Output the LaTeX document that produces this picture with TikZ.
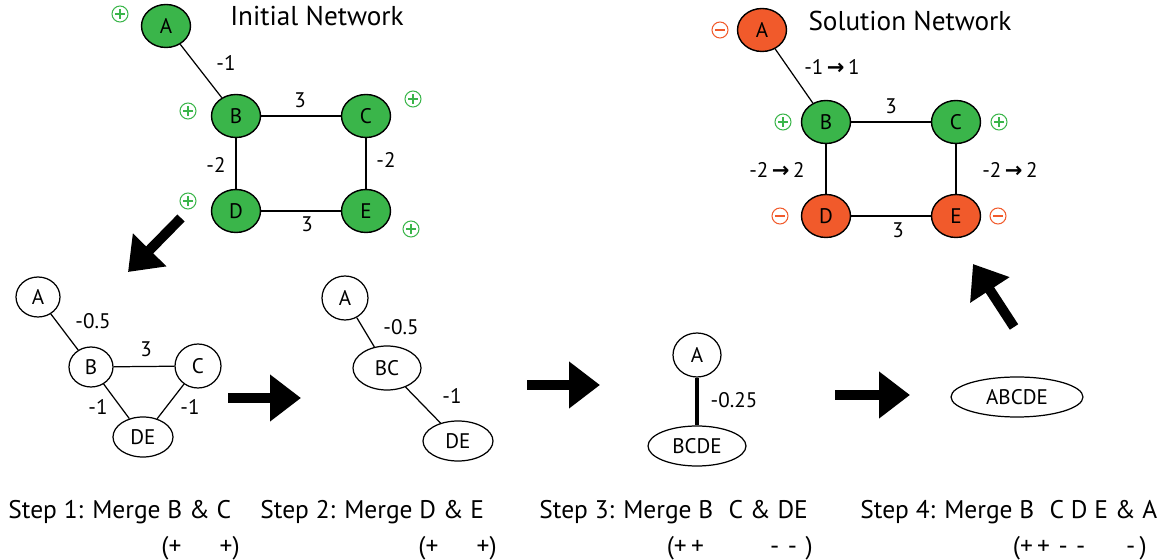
\documentclass[tikz,border=0pt]{standalone}
\usepackage{fontspec}
\setmainfont{PT Sans}
\newfontfamily\arrowfont{DejaVu Sans}
\usetikzlibrary{shapes.geometric,arrows.meta}

\definecolor{netgreen}{HTML}{3AB54A}
\definecolor{netorange}{HTML}{F15A2B}

\tikzset{
  netnode/.style={ellipse, draw, line width=0.8pt, inner sep=0pt,
    minimum width=0.98cm, minimum height=0.86cm, font=\fontsize{12}{14}\selectfont},
  gnode/.style={netnode, fill=netgreen},
  onode/.style={netnode, fill=netorange},
  wnode/.style={ellipse, draw, line width=0.7pt, fill=white, inner sep=0pt,
    font=\fontsize{12}{14}\selectfont},
  wlabel/.style={font=\fontsize{12}{14}\selectfont, inner sep=1pt},
  title/.style={font=\fontsize{15.5}{18}\selectfont},
  steptext/.style={font=\fontsize{14.5}{17}\selectfont, inner sep=0pt},
  link/.style={line width=0.7pt},
  bigarrow/.style={line width=0.2cm, -{Triangle[length=0.62cm,width=0.9cm]}},
  possign/.style={circle, draw=netgreen, line width=0.6pt, minimum size=0.32cm, inner sep=0pt,
    path picture={\draw[netgreen, line width=0.6pt]
      ([xshift=-0.1cm]path picture bounding box.center) -- ([xshift=0.1cm]path picture bounding box.center)
      ([yshift=-0.1cm]path picture bounding box.center) -- ([yshift=0.1cm]path picture bounding box.center);}},
  negsign/.style={circle, draw=netorange, line width=0.6pt, minimum size=0.32cm, inner sep=0pt,
    path picture={\draw[netorange, line width=0.6pt]
      ([xshift=-0.1cm]path picture bounding box.center) -- ([xshift=0.1cm]path picture bounding box.center);}}
}
\newcommand{\toarrow}{\,{\arrowfont\bfseries →}\,}

\begin{document}
\begin{tikzpicture}[x=0.02cm, y=-0.02cm]
  \useasboundingbox (0,0) rectangle (1167,560);

  % Initial network
  \node[title] (initTitle) at (317,16) {Initial Network};
  \node[gnode] (iA) at (166,26) {A};
  \node[gnode] (iB) at (236,116) {B};
  \node[gnode] (iC) at (366,116) {C};
  \node[gnode] (iD) at (236,211) {D};
  \node[gnode] (iE) at (366,211) {E};
  \draw[link] (iA) -- (iB);
  \draw[link] (iB) -- (iC);
  \draw[link] (iB) -- (iD);
  \draw[link] (iC) -- (iE);
  \draw[link] (iD) -- (iE);
  \node[wlabel] (iAB) at (226,63) {-1};
  \node[wlabel] (iBC) at (300,100) {3};
  \node[wlabel] (iBD) at (216,165) {-2};
  \node[wlabel] (iCE) at (386,160) {-2};
  \node[wlabel] (iDE) at (307,224) {3};
  \node[possign] (iAs) at (120,14) {};
  \node[possign] (iBs) at (188,111) {};
  \node[possign] (iCs) at (413,99) {};
  \node[possign] (iDs) at (188,201) {};
  \node[possign] (iEs) at (411,229) {};

  % Solution network
  \node[title] (solTitle) at (910,21) {Solution Network};
  \node[onode] (sA) at (762,30) {A};
  \node[gnode] (sB) at (826,122) {B};
  \node[gnode] (sC) at (956,122) {C};
  \node[onode] (sD) at (826,216) {D};
  \node[onode] (sE) at (956,216) {E};
  \draw[link] (sA) -- (sB);
  \draw[link] (sB) -- (sC);
  \draw[link] (sB) -- (sD);
  \draw[link] (sC) -- (sE);
  \draw[link] (sD) -- (sE);
  \node[wlabel] (sAB) at (832,67) {-1\toarrow 1};
  \node[wlabel] (sBC) at (891,106) {3};
  \node[wlabel] (sBD) at (777,170) {-2\toarrow 2};
  \node[wlabel] (sCE) at (1010,170) {-2\toarrow 2};
  \node[wlabel] (sDE) at (898,230) {3};
  \node[negsign] (sAs) at (720,30) {};
  \node[possign] (sBs) at (783,122) {};
  \node[possign] (sCs) at (999,122) {};
  \node[negsign] (sDs) at (780,216) {};
  \node[negsign] (sEs) at (998,216) {};

  % Step 1
  \node[wnode, minimum width=0.88cm, minimum height=0.8cm] (aA) at (38,297) {A};
  \node[wnode, minimum width=0.88cm, minimum height=0.8cm] (aB) at (91,367) {B};
  \node[wnode, minimum width=0.92cm, minimum height=0.88cm] (aC) at (198,366) {C};
  \node[wnode, minimum width=1.2cm, minimum height=0.8cm] (aDE) at (143,437) {DE};
  \draw[link] (aA) -- (aB);
  \draw[link] (aB) -- (aC);
  \draw[link] (aB) -- (aDE);
  \draw[link] (aC) -- (aDE);
  \node[wlabel] (aAB) at (93,321) {-0.5};
  \node[wlabel] (aBC) at (146,349) {3};
  \node[wlabel] (aBDE) at (98,407) {-1};
  \node[wlabel] (aCDE) at (190,407) {-1};

  % Step 2
  \node[wnode, minimum width=0.92cm, minimum height=0.88cm] (bA) at (345,298) {A};
  \node[wnode, minimum width=1.36cm, minimum height=0.88cm] (bBC) at (387,368) {BC};
  \node[wnode, minimum width=1.4cm, minimum height=0.8cm] (bDE) at (458,441) {DE};
  \draw[link] (bA) -- (bBC);
  \draw[link] (bBC) -- (bDE);
  \node[wlabel] (bABC) at (401,327) {-0.5};
  \node[wlabel] (bBCDE) at (452,396) {-1};

  % Step 3
  \node[wnode, minimum width=0.96cm, minimum height=0.88cm] (cA) at (697,355) {A};
  \node[wnode, minimum width=1.96cm, minimum height=0.8cm] (cBCDE) at (697,446) {BCDE};
  \draw[line width=1.8pt] (cA) -- (cBCDE);
  \node[wlabel] (cABCDE) at (734,400) {-0.25};

  % Step 4
  \node[wnode, minimum width=2.64cm, minimum height=0.8cm] (dAll) at (1017,397) {ABCDE};

  % Big arrows
  \coordinate (arr1s) at (181,218);
  \coordinate (arr1e) at (128,272);
  \coordinate (arr2s) at (228,398);
  \coordinate (arr2e) at (301,398);
  \coordinate (arr3s) at (527,385);
  \coordinate (arr3e) at (600,385);
  \coordinate (arr4s) at (835,395);
  \coordinate (arr4e) at (910,395);
  \coordinate (arr5s) at (1014,327);
  \coordinate (arr5e) at (973,264);
  \draw[bigarrow] (arr1s) -- (arr1e);
  \draw[bigarrow] (arr2s) -- (arr2e);
  \draw[bigarrow] (arr3s) -- (arr3e);
  \draw[bigarrow] (arr4s) -- (arr4e);
  \draw[bigarrow] (arr5s) -- (arr5e);

  % Step captions
  \node[steptext, anchor=west] (step1) at (8,512) {Step 1: Merge B \& C};
  \node[steptext, anchor=east] (sign1) at (240,548) {(+\hspace{1.5em}+)};
  \node[steptext, anchor=west] (step2) at (260,512) {Step 2: Merge D \& E};
  \node[steptext, anchor=east] (sign2) at (497,548) {(+\hspace{1.5em}+)};
  \node[steptext, anchor=west] (step3) at (539,512) {Step 3: Merge B\hspace{0.6em}C \& DE};
  \node[steptext, anchor=east] (sign3) at (813,548) {(+\,+\hspace{2.6em}-\,\,-\,\,)};
  \node[steptext, anchor=west] (step4) at (860,512) {Step 4: Merge B\hspace{0.6em}C D E \& A};
  \node[steptext, anchor=east] (sign4) at (1147,548) {(+\,+\,\,-\,\,-\hspace{1.6em}-\,)};
\end{tikzpicture}
\end{document}
